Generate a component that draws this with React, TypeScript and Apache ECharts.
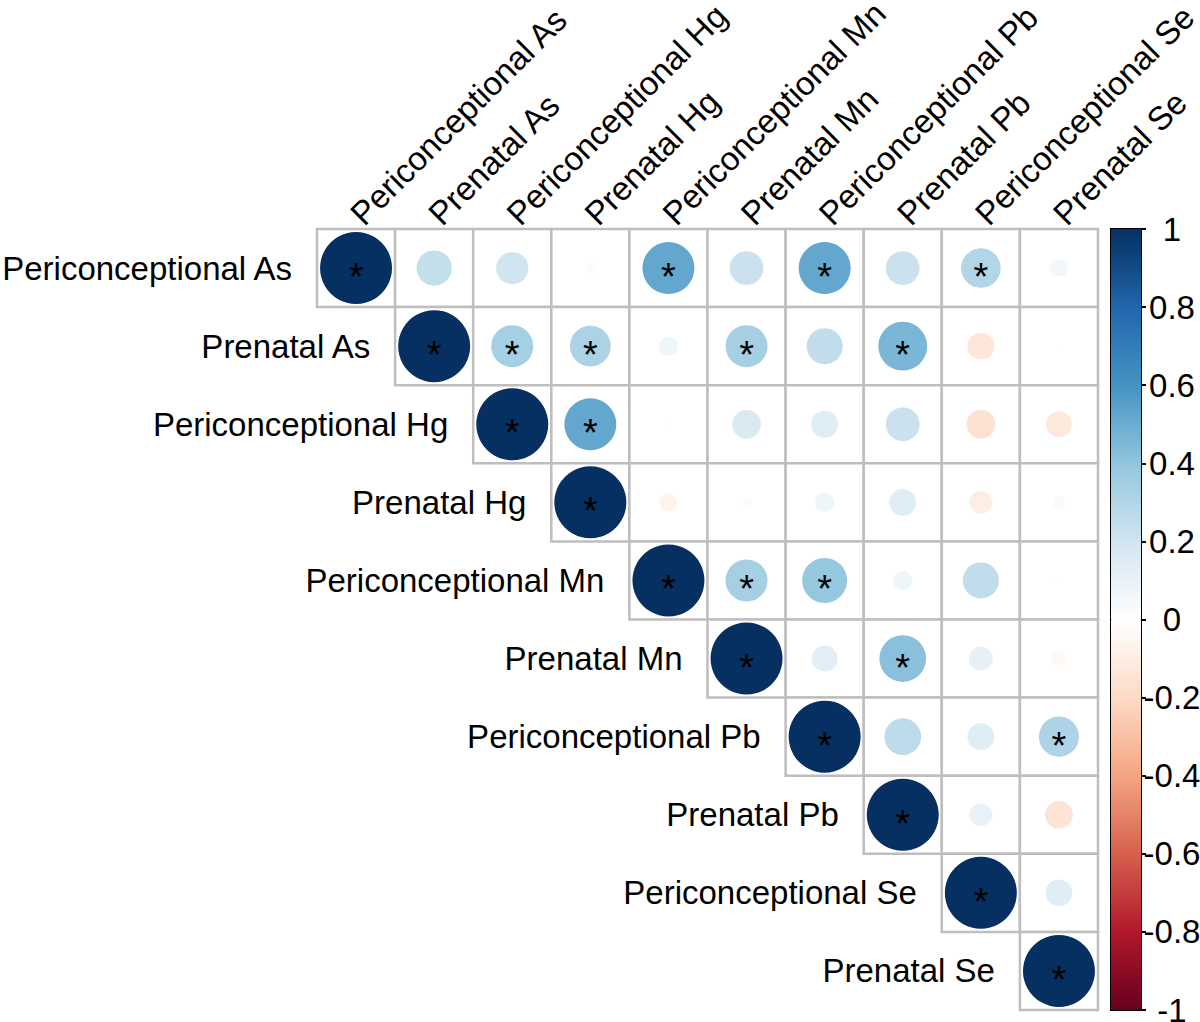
import React, { useEffect, useRef } from "react";
import * as echarts from "echarts";

const VARS = [
  "Periconceptional As",
  "Prenatal As",
  "Periconceptional Hg",
  "Prenatal Hg",
  "Periconceptional Mn",
  "Prenatal Mn",
  "Periconceptional Pb",
  "Prenatal Pb",
  "Periconceptional Se",
  "Prenatal Se",
];

// Upper-triangle correlations (off-diagonal), row i lists columns i+1..9
const CORR_ROWS: number[][] = [
  [0.24, 0.2, 0.02, 0.52, 0.22, 0.52, 0.22, 0.3, 0.06],
  [0.34, 0.32, 0.07, 0.34, 0.25, 0.46, -0.14, 0.005],
  [0.52, 0.01, 0.16, 0.14, 0.22, -0.16, -0.13],
  [-0.06, 0.02, 0.07, 0.14, -0.1, 0.03],
  [0.34, 0.39, 0.07, 0.25, 0.01],
  [0.13, 0.42, 0.11, -0.04],
  [0.26, 0.14, 0.31],
  [0.1, -0.15],
  [0.14],
];

// Significance flags (1 = marked with *), same layout as CORR_ROWS
const SIG_ROWS: number[][] = [
  [0, 0, 0, 1, 0, 1, 0, 1, 0],
  [1, 1, 0, 1, 0, 1, 0, 0],
  [1, 0, 0, 0, 0, 0, 0],
  [0, 0, 0, 0, 0, 0],
  [1, 1, 0, 0, 0],
  [0, 1, 0, 0],
  [0, 0, 1],
  [0, 0],
  [0],
];

const PALETTE = [
  "#67001F",
  "#B2182B",
  "#D6604D",
  "#F4A582",
  "#FDDBC7",
  "#FFFFFF",
  "#D1E5F0",
  "#92C5DE",
  "#4393C3",
  "#2166AC",
  "#053061",
];

const FONT = "'Liberation Sans', Arial, sans-serif";
const MAX_DIAM = 72;

function buildCells() {
  const cells: number[][] = [];
  const points: any[] = [];
  const diag: number[][] = [];
  for (let i = 0; i < VARS.length; i++) {
    diag.push([i, i]);
    for (let j = i; j < VARS.length; j++) {
      cells.push([j, i]);
      const v = i === j ? 1 : CORR_ROWS[i][j - i - 1];
      const s = i === j ? 1 : SIG_ROWS[i][j - i - 1];
      points.push([j, i, v, s]);
    }
  }
  return { cells, points, diag };
}

export default function App() {
  const ref = useRef<HTMLDivElement>(null);
  useEffect(() => {
    if (!ref.current) return;
    const chart = echarts.init(ref.current, null, { renderer: "svg" });
    const { cells, points, diag } = buildCells();
    const option: any = {
      animation: false,
      backgroundColor: "#fff",
      textStyle: { fontFamily: FONT },
      grid: [
        { left: 317, top: 229, width: 781, height: 781, outerBoundsMode: "none", containLabel: false },
        {
          left: 1111,
          top: 229,
          width: 30,
          height: 781,
          show: true,
          borderColor: "#000",
          borderWidth: 2,
          backgroundColor: "transparent",
          outerBoundsMode: "none",
          containLabel: false,
        },
      ],
      xAxis: [
        {
          gridIndex: 0,
          type: "category",
          data: VARS,
          position: "top",
          axisLine: { show: false },
          axisTick: { show: false },
          splitLine: { show: false },
          axisLabel: {
            interval: 0,
            rotate: -45,
            margin: 10,
            verticalAlign: "middle",
            fontSize: 33,
            color: "#000",
            fontFamily: FONT,
          },
        },
        {
          gridIndex: 1,
          type: "category",
          data: [""],
          show: false,
        },
      ],
      yAxis: [
        {
          gridIndex: 0,
          type: "category",
          data: VARS,
          inverse: true,
          axisLine: { show: false },
          axisTick: { show: false },
          axisLabel: { show: false },
          splitLine: { show: false },
        },
        {
          gridIndex: 1,
          type: "value",
          min: -1,
          max: 1,
          interval: 0.2,
          position: "right",
          axisLine: { show: false },
          splitLine: { show: false },
          axisTick: { show: true, length: 5, lineStyle: { color: "#000", width: 2 } },
          axisLabel: {
            show: true,
            align: "center",
            margin: 31,
            fontSize: 33,
            color: "#000",
            fontFamily: FONT,
            formatter: (v: number) => String(Math.round(v * 10) / 10),
          },
        },
      ],
      visualMap: {
        type: "continuous",
        show: false,
        min: -1,
        max: 1,
        dimension: 2,
        seriesIndex: 1,
        inRange: { color: PALETTE },
      },
      series: [
        {
          type: "custom",
          xAxisIndex: 0,
          yAxisIndex: 0,
          data: cells,
          z: 1,
          renderItem: (params: any, api: any) => {
            const c = api.coord([api.value(0), api.value(1)]);
            const s = api.size([1, 1]);
            return {
              type: "rect",
              shape: { x: c[0] - s[0] / 2, y: c[1] - s[1] / 2, width: s[0], height: s[1] },
              style: { fill: "#fff", stroke: "#BEBEBE", lineWidth: 2.5 },
            };
          },
        },
        {
          type: "scatter",
          xAxisIndex: 0,
          yAxisIndex: 0,
          data: points,
          z: 3,
          symbol: "circle",
          symbolSize: (d: number[]) => MAX_DIAM * Math.sqrt(Math.abs(d[2])),
          itemStyle: { opacity: 1 },
          label: {
            show: true,
            position: "inside",
            formatter: (p: any) => (p.data[3] ? "*" : ""),
            color: "#000",
            fontSize: 38,
            fontFamily: FONT,
            offset: [0, 9],
          },
          emphasis: { disabled: true },
        },
        {
          type: "scatter",
          xAxisIndex: 0,
          yAxisIndex: 0,
          data: diag,
          z: 2,
          symbolSize: 0,
          itemStyle: { opacity: 1 },
          label: {
            show: true,
            position: "left",
            distance: 64,
            formatter: (p: any) => VARS[p.data[1]],
            color: "#000",
            fontSize: 33,
            fontFamily: FONT,
          },
          emphasis: { disabled: true },
        },
        {
          type: "bar",
          xAxisIndex: 1,
          yAxisIndex: 1,
          data: [1],
          barWidth: "100%",
          barGap: "-100%",
          itemStyle: {
            color: new echarts.graphic.LinearGradient(0, 0, 0, 1, [
              { offset: 0, color: PALETTE[10] },
              { offset: 0.2, color: PALETTE[9] },
              { offset: 0.4, color: PALETTE[8] },
              { offset: 0.6, color: PALETTE[7] },
              { offset: 0.8, color: PALETTE[6] },
              { offset: 1, color: PALETTE[5] },
            ]),
          },
          emphasis: { disabled: true },
        },
        {
          type: "bar",
          xAxisIndex: 1,
          yAxisIndex: 1,
          data: [-1],
          barWidth: "100%",
          barGap: "-100%",
          itemStyle: {
            color: new echarts.graphic.LinearGradient(0, 0, 0, 1, [
              { offset: 0, color: PALETTE[5] },
              { offset: 0.2, color: PALETTE[4] },
              { offset: 0.4, color: PALETTE[3] },
              { offset: 0.6, color: PALETTE[2] },
              { offset: 0.8, color: PALETTE[1] },
              { offset: 1, color: PALETTE[0] },
            ]),
          },
          emphasis: { disabled: true },
        },
      ],
    };
    chart.setOption(option);
    return () => chart.dispose();
  }, []);
  return (
    <div
      ref={ref}
      style={{ position: "absolute", left: 0, top: 0, width: 1200, height: 1022 }}
    />
  );
}
